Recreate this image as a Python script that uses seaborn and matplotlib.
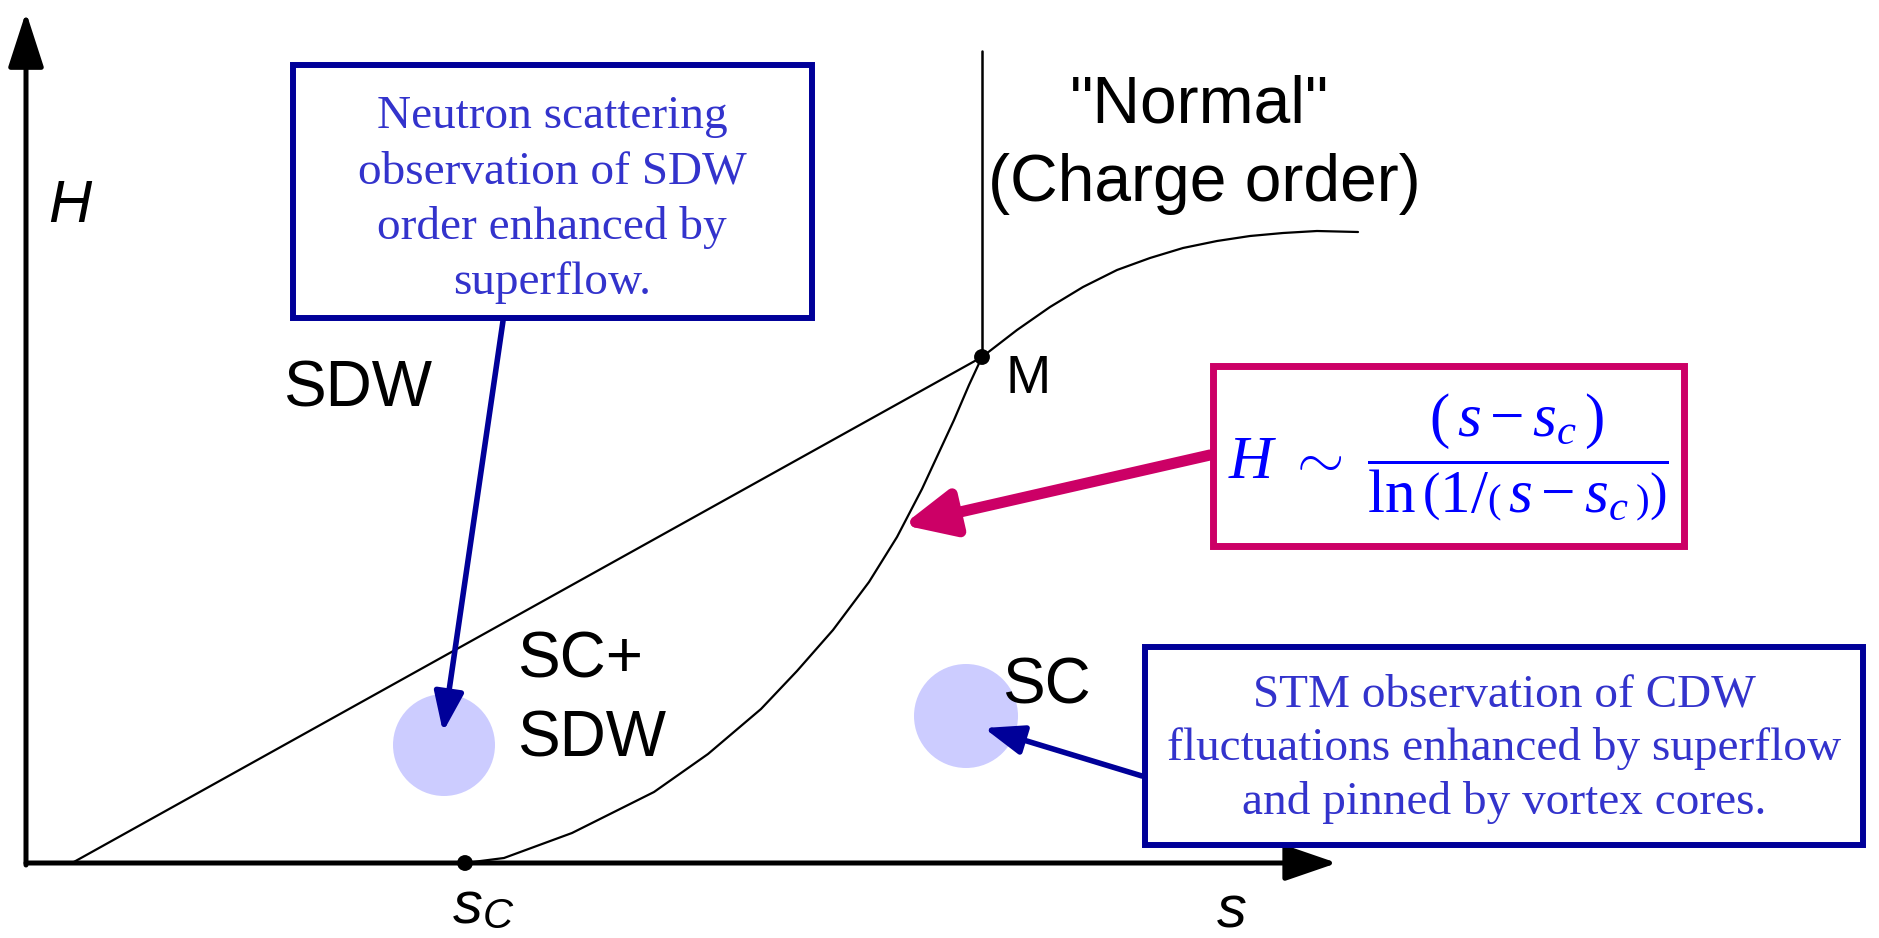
import matplotlib
matplotlib.use("Agg")
import matplotlib.pyplot as plt
import seaborn as sns
import pandas as pd
from matplotlib.patches import Circle, Rectangle

# ---------------- data (s, H in schematic units) ----------------
s_c = 4.39
s_M, H_M = 9.56, 5.06
H_top_vertical = 8.12

sdw_line_s = [0.46, s_M]
sdw_line_H = [0.0, H_M]

sc_curve_s = [4.39, 4.78, 5.46, 6.28, 6.82, 7.35, 7.71, 8.07, 8.43, 8.71, 8.96, 9.28, 9.43, 9.56]
sc_curve_H = [0.00, 0.05, 0.30, 0.71, 1.09, 1.54, 1.92, 2.33, 2.81, 3.26, 3.74, 4.43, 4.78, 5.06]

normal_curve_s = [9.56, 9.91, 10.24, 10.57, 10.91, 11.24, 11.57, 11.91, 12.24, 12.57, 12.91, 13.32]
normal_curve_H = [5.06, 5.33, 5.56, 5.76, 5.93, 6.05, 6.15, 6.22, 6.27, 6.30, 6.32, 6.31]

vertical_s = [s_M, s_M]
vertical_H = [H_M, H_top_vertical]

points_s = [s_c, s_M]
points_H = [0.0, H_M]

circle_s = [4.18, 9.40]
circle_H = [1.18, 1.47]
circle_r = [0.51, 0.52]

neutron_text = "Neutron scattering\nobservation of SDW\norder enhanced by\nsuperflow."
stm_text = "STM observation of CDW\nfluctuations enhanced by superflow\nand pinned by vortex cores."
formula = r"$H\ \sim\ \dfrac{(\,s-s_c\,)}{\ln\left(1/\left(\,s-s_c\,\right)\right)}$"

# ---------------- style ----------------
sns.set_theme(style="white")
plt.rcParams["font.family"] = ["Liberation Sans", "DejaVu Sans"]
plt.rcParams["mathtext.fontset"] = "custom"
plt.rcParams["mathtext.rm"] = "Liberation Serif"
plt.rcParams["mathtext.it"] = "Liberation Serif:italic"
plt.rcParams["mathtext.bf"] = "Liberation Serif:bold"

NAVY = "#000099"
TEXTBLUE = "#3333cc"
MAGENTA = "#cc0066"
LAVENDER = "#ccccff"

fig = plt.figure(figsize=(18.79, 9.38), dpi=100)
ax = fig.add_axes([0, 0, 1, 1])
ax.set_xlim(-0.26, 18.53)
ax.set_ylim(-0.75, 8.63)
ax.axis("off")

# circles
for cs, ch, cr in zip(circle_s, circle_H, circle_r):
    ax.add_patch(Circle((cs, ch), cr, facecolor=LAVENDER, edgecolor="none", zorder=1))

# axes arrows
ax.annotate("", xy=(13.11, 0), xytext=(0, 0),
            arrowprops=dict(arrowstyle="-|>,head_length=32,head_width=11", mutation_scale=1,
                            lw=3.6, color="black", shrinkA=0, shrinkB=0), zorder=3)
ax.annotate("", xy=(0, 8.51), xytext=(0, -0.02),
            arrowprops=dict(arrowstyle="-|>,head_length=34,head_width=11", mutation_scale=1,
                            lw=3.6, color="black", shrinkA=0, shrinkB=0), zorder=3)

# phase boundaries
line_kw = dict(ax=ax, color="black", linewidth=1.6, sort=False, estimator=None, legend=False)
sns.lineplot(x=sdw_line_s, y=sdw_line_H, **line_kw)
sns.lineplot(x=sc_curve_s, y=sc_curve_H, **line_kw)
sns.lineplot(x=normal_curve_s, y=normal_curve_H, **line_kw)
sns.lineplot(data=pd.DataFrame({"s": vertical_s, "H": vertical_H}), x="s", y="H",
             ax=ax, color="black", linewidth=1.8, sort=False, estimator=None, legend=False)
sns.scatterplot(x=points_s, y=points_H, ax=ax, color="black", s=130, edgecolor="none",
                zorder=5, legend=False)

# labels
lab = dict(fontsize=46, color="black", family=["Liberation Sans", "DejaVu Sans"])
ax.text(3.32, 4.74, "SDW", ha="center", va="center", **lab)
ax.text(4.91, 2.03, "SC+", ha="left", va="center", **lab)
ax.text(4.91, 1.24, "SDW", ha="left", va="center", **lab)
ax.text(9.76, 1.77, "SC", ha="left", va="center", **lab)
big = dict(lab, fontsize=47.5)
ax.text(11.74, 7.58, '"Normal"', ha="center", va="center", **big)
ax.text(11.78, 6.79, "(Charge order)", ha="center", va="center", **big)
ax.text(9.80, 4.70, "M", ha="left", va="baseline", fontsize=39, color="black")
ax.text(0.22, 6.41, "H", ha="left", va="baseline", fontsize=43, style="italic", color="black")
ax.text(12.06, -0.64, "s", ha="center", va="baseline", fontsize=43, style="italic", color="black")
ax.text(4.27, -0.60, "s", ha="left", va="baseline", fontsize=43, style="italic", color="black")
ax.text(4.57, -0.743, "C", ha="left", va="bottom", fontsize=30, style="italic", color="black")

# neutron box
ax.add_patch(Rectangle((2.67, 5.45), 5.19, 2.53, facecolor="white", edgecolor=NAVY, lw=4.3, zorder=4))
ax.text(5.26, 6.63, neutron_text, ha="center", va="center", multialignment="center",
        fontsize=34, color=TEXTBLUE, family="Liberation Serif", linespacing=1.38, zorder=6)
ax.annotate("", xy=(4.17, 1.31), xytext=(4.77, 5.42),
            arrowprops=dict(arrowstyle="-|>,head_length=24,head_width=9", mutation_scale=1,
                            lw=4, color=NAVY, shrinkA=0, shrinkB=0), zorder=6)

# STM box
ax.add_patch(Rectangle((11.19, 0.18), 7.18, 1.98, facecolor="white", edgecolor=NAVY, lw=4.3, zorder=4))
ax.text(14.78, 1.14, stm_text, ha="center", va="center", multialignment="center",
        fontsize=34, color=TEXTBLUE, family="Liberation Serif", linespacing=1.33, zorder=6)
ax.annotate("", xy=(9.58, 1.35), xytext=(11.16, 0.87),
            arrowprops=dict(arrowstyle="-|>,head_length=24,head_width=9", mutation_scale=1,
                            lw=4, color=NAVY, shrinkA=0, shrinkB=0), zorder=6)

# formula box
ax.add_patch(Rectangle((11.87, 3.17), 4.71, 1.80, facecolor="white", edgecolor=MAGENTA, lw=5, zorder=4))
ax.text(14.22, 4.06, formula, ha="center", va="center", fontsize=44, color="#0000ff", zorder=6)
ax.annotate("", xy=(8.77, 3.38), xytext=(11.84, 4.08),
            arrowprops=dict(arrowstyle="-|>,head_length=30,head_width=14", mutation_scale=1,
                            lw=8, color=MAGENTA, shrinkA=0, shrinkB=0), zorder=6)

fig.savefig("out.png", dpi=100, facecolor="white")
